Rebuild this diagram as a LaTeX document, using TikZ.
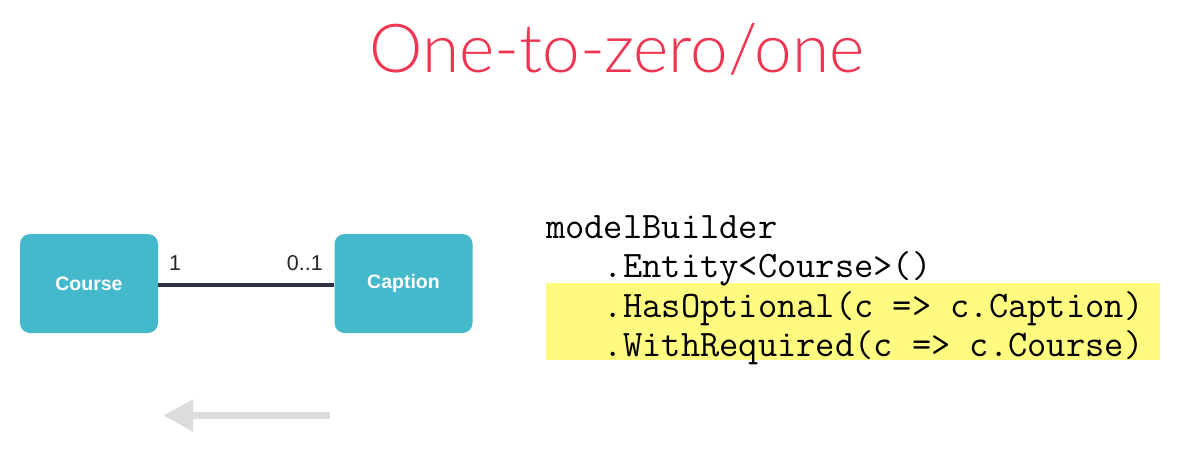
\documentclass[tikz,border=0pt]{standalone}
\usepackage{fontspec}
\setmainfont{Liberation Sans}
\newfontfamily\titlefont{Lato}[UprightFont=* Light]
\newfontfamily\codefont{Latin Modern Mono}
\usetikzlibrary{arrows.meta}
\definecolor{titlered}{HTML}{EE3552}
\definecolor{entityteal}{HTML}{43B9CB}
\definecolor{linkdark}{HTML}{2E3142}
\definecolor{hlyellow}{HTML}{FFFA80}
\definecolor{hintgray}{HTML}{DCDCDE}
\tikzset{
  entity/.style={rounded corners=10pt, fill=entityteal, draw=none,
    minimum width=138pt, minimum height=99pt, inner sep=0pt,
    text=white, font=\fontsize{19.5}{22}\selectfont\bfseries},
  mult/.style={font=\fontsize{21.5}{24}\selectfont, text=black!85, inner sep=0pt},
  codeline/.style={anchor=base west, inner sep=0pt,
    font=\codefont\fontsize{37.4}{40}\selectfont},
}
\begin{document}
\begin{tikzpicture}[x=1pt, y=-1pt]
  \useasboundingbox[fill=white] (0,0) rectangle (1200,474);

  % heading
  \node[anchor=base, text=titlered, inner sep=0pt,
        font=\titlefont\fontsize{67.5}{80}\selectfont] (title) at (617,72) {One-to-zero/one};

  % entities and their association
  \node[entity] (course)  at (89,283.5)  {\raisebox{-2pt}{Course}};
  \node[entity] (caption) at (403.5,283.5) {\raisebox{-2pt}{Caption}};
  \draw[linkdark, line width=4pt] (course.east |- 0,285) coordinate (la) -- (caption.west |- 0,285) coordinate (lb);
  \node[mult, anchor=base west] (m1) at (169,270) {1};
  \node[mult, anchor=base east] (m2) at (323,270) {0..1};

  % highlighted part of the configuration
  \fill[hlyellow] (546,283) rectangle (1160,360);
  \node[codeline] (c1) at (546,238) {modelBuilder};
  \node[codeline] (c2) at (546,277.5) {\ \ \ .Entity<Course>()};
  \node[codeline] (c3) at (546,317) {\ \ \ .HasOptional(c => c.Caption)};
  \node[codeline] (c4) at (546,356.5) {\ \ \ .WithRequired(c => c.Course)};

  % direction hint
  \coordinate (ha) at (330,415.5);
  \coordinate (hb) at (163,415.5);
  \draw[hintgray, line width=7pt, -{Triangle[length=30pt, width=30pt]}] (ha) -- (hb);
\end{tikzpicture}
\end{document}
